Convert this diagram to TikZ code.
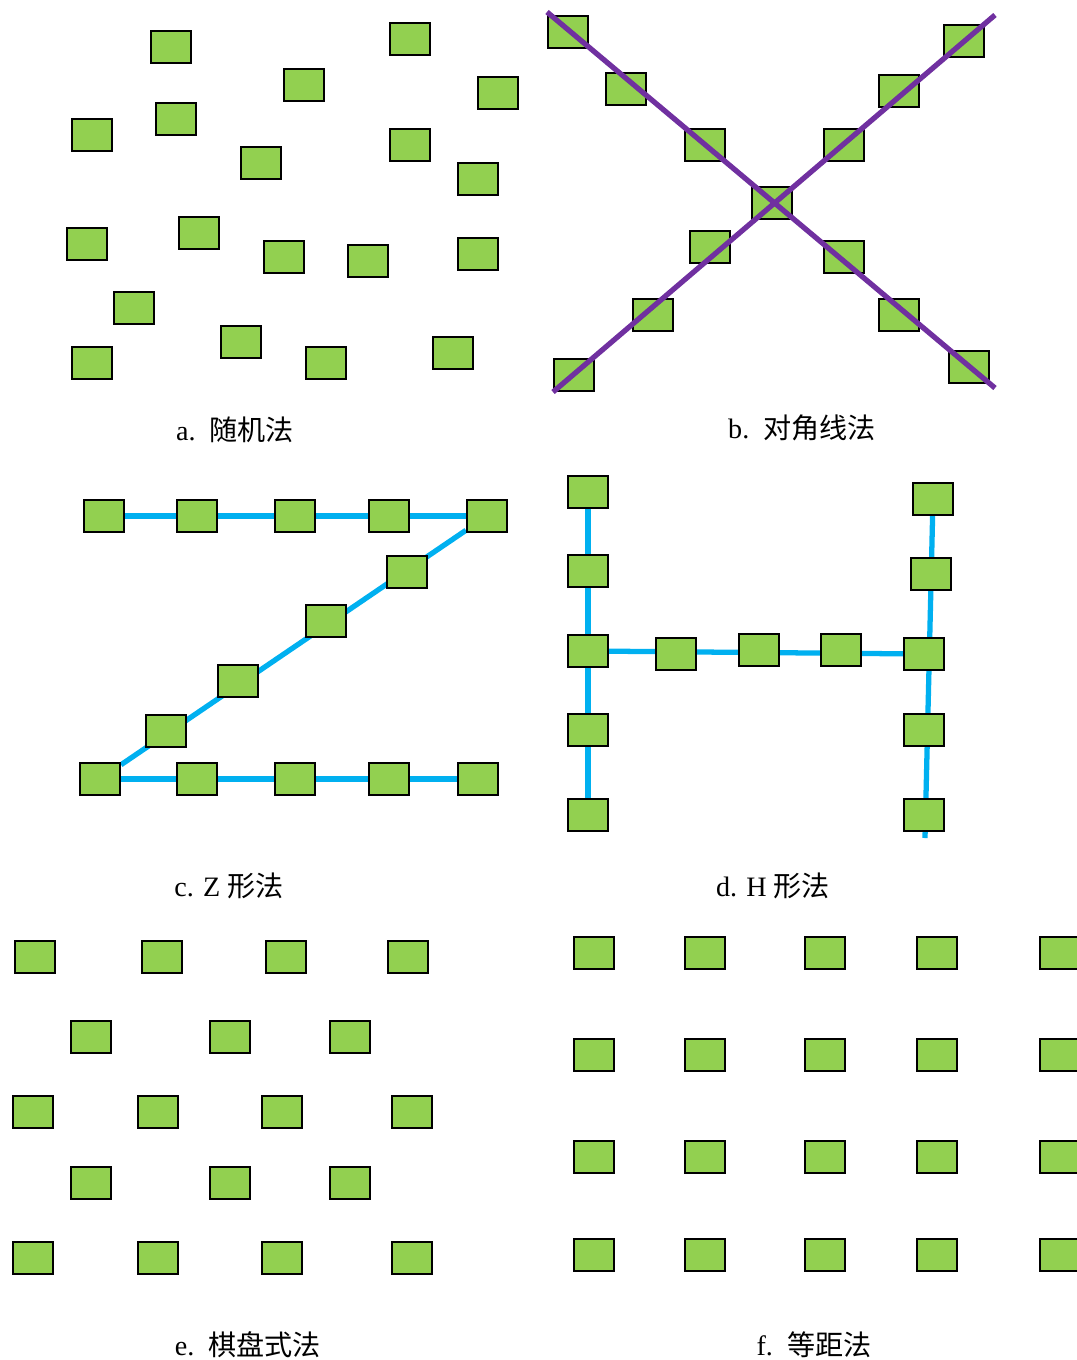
\documentclass[tikz,border=0pt]{standalone}
\usepackage{fontspec}
\setmainfont{Liberation Serif}
\newfontfamily\cjk{Noto Sans CJK SC}
\usetikzlibrary{backgrounds}
\definecolor{plotgreen}{HTML}{92D050}
\definecolor{diagpurple}{HTML}{7030A0}
\definecolor{routeblue}{HTML}{00B0F0}

\begin{document}
\begin{tikzpicture}[
        x=0.02cm, y=-0.02cm,
        plotbox/.style={draw=black, fill=plotgreen, line width=1.2pt, minimum width=0.8cm, minimum height=0.64cm, inner sep=0pt},
        diag/.style={diagpurple, line width=3pt},
        route/.style={routeblue, line width=3pt},
        caption/.style={font=\fontsize{16}{19}\selectfont},
    ]
        \useasboundingbox (0,0) rectangle (1076,1360);

        % a. random
        \node[plotbox] (a1) at (171,47) {};
        \node[plotbox] (a2) at (410,39) {};
        \node[plotbox] (a3) at (304,85) {};
        \node[plotbox] (a4) at (498,93) {};
        \node[plotbox] (a5) at (92,135) {};
        \node[plotbox] (a6) at (176,119) {};
        \node[plotbox] (a7) at (261,163) {};
        \node[plotbox] (a8) at (410,145) {};
        \node[plotbox] (a9) at (478,179) {};
        \node[plotbox] (a10) at (87,244) {};
        \node[plotbox] (a11) at (199,233) {};
        \node[plotbox] (a12) at (284,257) {};
        \node[plotbox] (a13) at (368,261) {};
        \node[plotbox] (a14) at (478,254) {};
        \node[plotbox] (a15) at (134,308) {};
        \node[plotbox] (a16) at (241,342) {};
        \node[plotbox] (a17) at (92,363) {};
        \node[plotbox] (a18) at (326,363) {};
        \node[plotbox] (a19) at (453,353) {};
        \node[caption] (capa) at (235,430) {a.\ \ {\cjk 随机法}};

        % b. diagonal
        \node[plotbox] (b1) at (568,32) {};
        \node[plotbox] (b2) at (626,89) {};
        \node[plotbox] (b3) at (705,145) {};
        \node[plotbox] (b4) at (772,203) {};
        \node[plotbox] (b5) at (710,247) {};
        \node[plotbox] (b6) at (653,315) {};
        \node[plotbox] (b7) at (574,375) {};
        \node[plotbox] (b8) at (964,41) {};
        \node[plotbox] (b9) at (899,91) {};
        \node[plotbox] (b10) at (844,145) {};
        \node[plotbox] (b11) at (844,257) {};
        \node[plotbox] (b12) at (899,315) {};
        \node[plotbox] (b13) at (969,367) {};
        \coordinate (b-nw) at (547,12);
        \coordinate (b-se) at (995,388);
        \coordinate (b-sw) at (553,392);
        \coordinate (b-ne) at (995,15);
        \draw[diag] (b-nw) -- (b-se);
        \draw[diag] (b-sw) -- (b-ne);
        \node[caption] (capb) at (802,428) {b.\ \ {\cjk 对角线法}};

        % c. Z shape
        \node[plotbox] (c1) at (104,516) {};
        \node[plotbox] (c2) at (197,516) {};
        \node[plotbox] (c3) at (295,516) {};
        \node[plotbox] (c4) at (389,516) {};
        \node[plotbox] (c5) at (487,516) {};
        \node[plotbox] (c6) at (407,572) {};
        \node[plotbox] (c7) at (326,621) {};
        \node[plotbox] (c8) at (238,681) {};
        \node[plotbox] (c9) at (166,731) {};
        \node[plotbox] (c10) at (100,779) {};
        \node[plotbox] (c11) at (197,779) {};
        \node[plotbox] (c12) at (295,779) {};
        \node[plotbox] (c13) at (389,779) {};
        \node[plotbox] (c14) at (478,779) {};
        \begin{scope}[on background layer]
            \draw[route] (c1) -- (c5);
            \draw[route] (c5) -- (c10);
            \draw[route] (c10) -- (c14);
        \end{scope}
        \node[caption] (capc) at (229,886) {c. Z {\cjk 形法}};

        % d. H shape
        \node[plotbox] (d1) at (588,492) {};
        \node[plotbox] (d2) at (588,571) {};
        \node[plotbox] (d3) at (588,651) {};
        \node[plotbox] (d4) at (588,730) {};
        \node[plotbox] (d5) at (588,815) {};
        \node[plotbox] (d6) at (676,654) {};
        \node[plotbox] (d7) at (759,650) {};
        \node[plotbox] (d8) at (841,650) {};
        \node[plotbox] (d9) at (933,499) {};
        \node[plotbox] (d10) at (931,574) {};
        \node[plotbox] (d11) at (924,654) {};
        \node[plotbox] (d12) at (924,730) {};
        \node[plotbox] (d13) at (924,815) {};
        \coordinate (d-end) at (925,838);
        \begin{scope}[on background layer]
            \draw[route] (d1) -- (d5);
            \draw[route] (d3) -- (d11);
            \draw[route] (d9) -- (d-end);
        \end{scope}
        \node[caption] (capd) at (773,886) {d. H {\cjk 形法}};

        % e. checkerboard
        \foreach \x [count=\i] in {35,162,286,408}
            \node[plotbox] (e1-\i) at (\x,957) {};
        \foreach \x [count=\i] in {91,230,350}
            \node[plotbox] (e2-\i) at (\x,1037) {};
        \foreach \x [count=\i] in {33,158,282,412}
            \node[plotbox] (e3-\i) at (\x,1112) {};
        \foreach \x [count=\i] in {91,230,350}
            \node[plotbox] (e4-\i) at (\x,1183) {};
        \foreach \x [count=\i] in {33,158,282,412}
            \node[plotbox] (e5-\i) at (\x,1258) {};
        \node[caption] (cape) at (248,1345) {e.\ \ {\cjk 棋盘式法}};

        % f. equal spacing
        \foreach \y [count=\j] in {953,1055,1157,1255}
            \foreach \x [count=\i] in {594,705,825,937,1060}
                \node[plotbox] (f\j-\i) at (\x,\y) {};
        \node[caption] (capf) at (814,1345) {f.\ \ {\cjk 等距法}};
    \end{tikzpicture}
\end{document}
